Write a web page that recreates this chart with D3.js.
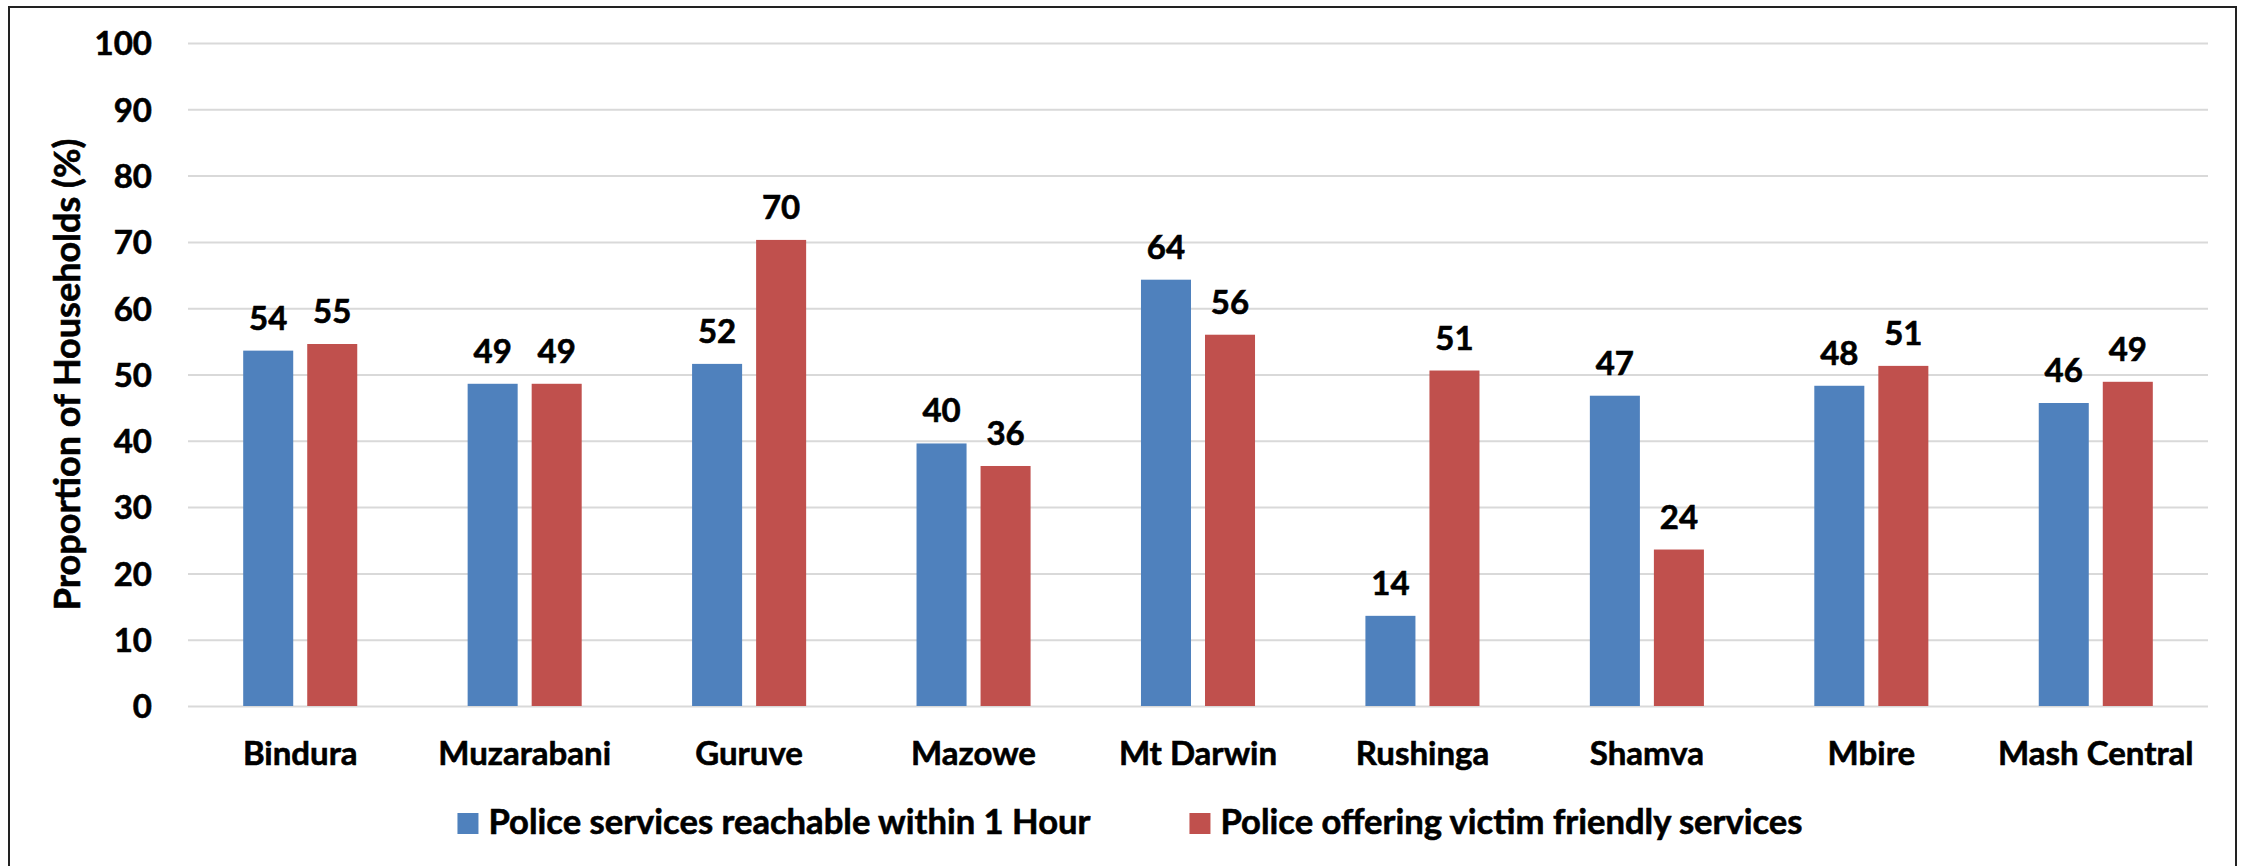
<!DOCTYPE html>
<html>
<head>
<meta charset="utf-8">
<script src="https://cdn.jsdelivr.net/npm/d3@7"></script>
<style>
  html, body { margin: 0; padding: 0; background: #ffffff; }
  svg { display: block; }
  text { font-family: Lato, "Open Sans", sans-serif; font-weight: 700; fill: #000; stroke: #000; stroke-width: 0.6px; }
</style>
</head>
<body>
<svg id="chart" width="2242" height="866"></svg>
<script>
// Districts of Mashonaland Central plus the provincial total
const categories = ["Bindura", "Muzarabani", "Guruve", "Mazowe", "Mt Darwin", "Rushinga", "Shamva", "Mbire", "Mash Central"];

// Share of households (%) per district
const reachableWithinHour = [53.6, 48.6, 51.6, 39.6, 64.3, 13.6, 46.8, 48.3, 45.7];
const victimFriendly      = [54.6, 48.6, 70.3, 36.2, 56.0, 50.6, 23.6, 51.3, 48.9];

const seriesNames = ["Police services reachable within 1 Hour", "Police offering victim friendly services"];
const seriesColors = ["#4F81BD", "#C0504D"];

const yTicks = [0, 10, 20, 30, 40, 50, 60, 70, 80, 90, 100];
const yTitle = "Proportion of Households (%)";

const W = 2242, H = 866;
const plot = { left: 188, right: 2208, top: 43, bottom: 706 };
const fontSize = 33;

const svg = d3.select("#chart");

// outer chart frame
svg.append("rect")
  .attr("x", 9).attr("y", 7)
  .attr("width", 2227).attr("height", H + 20)
  .attr("fill", "#fff")
  .attr("stroke", "#222").attr("stroke-width", 2);

const x0 = d3.scaleBand().domain(categories).range([plot.left, plot.right]).padding(0);
const x1 = d3.scaleBand().domain(d3.range(seriesNames.length))
  .range([0, x0.bandwidth()])
  .paddingInner(0.21875).paddingOuter(0.862);
const y = d3.scaleLinear().domain([0, 100]).range([plot.bottom, plot.top]);

// horizontal gridlines
const yAxis = d3.axisLeft(y).tickValues(yTicks).tickSize(-(plot.right - plot.left)).tickPadding(36).tickFormat(d3.format("d"));
const gy = svg.append("g").attr("transform", `translate(${plot.left},0)`).call(yAxis);
gy.select(".domain").remove();
gy.selectAll(".tick line").attr("stroke", "#d9d9d9").attr("stroke-width", 2);
gy.selectAll(".tick text")
  .attr("font-size", fontSize)
  .attr("font-family", "Lato, sans-serif")
  .attr("font-weight", 700)
  .attr("fill", "#000")
  .attr("dy", "0.36em");

// y-axis title
svg.append("text")
  .attr("transform", `translate(80,${(plot.top + plot.bottom) / 2}) rotate(-90)`)
  .attr("text-anchor", "middle")
  .attr("font-size", 36)
  .text(yTitle);

// grouped bars
const rows = categories.map((c, i) => ({ cat: c, values: [reachableWithinHour[i], victimFriendly[i]] }));
const fmt = d3.format(".0f");

const groups = svg.append("g").selectAll("g")
  .data(rows).join("g")
  .attr("transform", d => `translate(${x0(d.cat)},0)`);

groups.selectAll("rect")
  .data(d => d.values.map((v, s) => ({ v, s })))
  .join("rect")
  .attr("x", d => x1(d.s))
  .attr("width", x1.bandwidth())
  .attr("y", d => y(d.v))
  .attr("height", d => y(0) - y(d.v))
  .attr("fill", d => seriesColors[d.s]);

groups.selectAll("text.value")
  .data(d => d.values.map((v, s) => ({ v, s })))
  .join("text")
  .attr("class", "value")
  .attr("x", d => x1(d.s) + x1.bandwidth() / 2)
  .attr("y", d => y(d.v) - 21)
  .attr("text-anchor", "middle")
  .attr("font-size", fontSize)
  .text(d => fmt(d.v));

// category axis labels
const xAxis = d3.axisBottom(x0).tickSize(0).tickPadding(0);
const gx = svg.append("g").attr("transform", `translate(0,${plot.bottom})`).call(xAxis);
gx.select(".domain").remove();
gx.selectAll(".tick text")
  .attr("font-size", fontSize)
  .attr("font-family", "Lato, sans-serif")
  .attr("font-weight", 700)
  .attr("fill", "#000")
  .attr("dy", 0)
  .attr("y", 59);

// legend, centred under the plot
const legend = svg.append("g");
const sw = 21, swGap = 10, itemGap = 99, legendBaseline = 834;
const items = legend.selectAll("g").data(seriesNames).join("g");
items.append("rect")
  .attr("width", sw).attr("height", sw)
  .attr("y", legendBaseline - sw)
  .attr("fill", (d, i) => seriesColors[i]);
items.append("text")
  .attr("x", sw + swGap)
  .attr("y", legendBaseline)
  .attr("font-size", 34.6)
  .text(d => d);
let cursor = 0;
const widths = [];
items.each(function () {
  widths.push(sw + swGap + this.querySelector("text").getComputedTextLength());
});
const total = d3.sum(widths) + itemGap * (widths.length - 1);
cursor = 1130 - total / 2;
items.attr("transform", (d, i) => {
  const t = `translate(${cursor},0)`;
  cursor += widths[i] + itemGap;
  return t;
});
</script>
</body>
</html>
